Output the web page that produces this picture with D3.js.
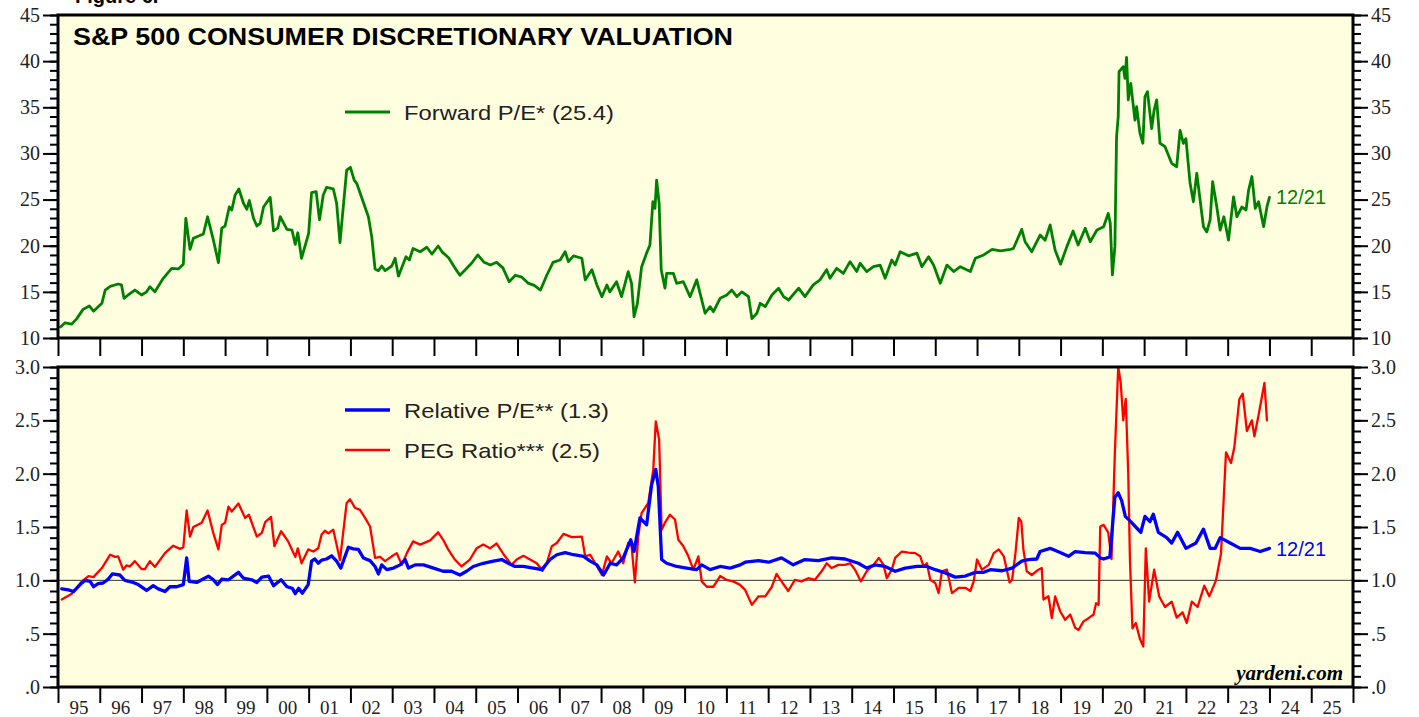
<!DOCTYPE html>
<html>
<head>
<meta charset="utf-8">
<title>S&amp;P 500 Consumer Discretionary Valuation</title>
<style>
  body { margin: 0; background: #fff; }
  .tick text { font-family: "Liberation Serif", "Times New Roman", serif; fill: #222; }
  .axis path.domain { display: none; }
  .axis line { stroke: #000; stroke-width: 2; }
  .line { fill: none; stroke-linejoin: round; stroke-linecap: round; }
</style>
</head>
<body>
<svg width="1419" height="717"></svg>
<script src="https://cdn.jsdelivr.net/npm/d3@7"></script>
<script>
// year labels along the bottom
var yearLabels = ["95","96","97","98","99","00","01","02","03","04","05","06","07","08","09","10",
  "11","12","13","14","15","16","17","18","19","20","21","22","23","24","25"];

// forward P/E, [year, value]
var forwardPE = [
  [1995.06,11.2],[1995.17,11.65],[1995.33,11.5],[1995.45,12.1],[1995.6,13.1],[1995.75,13.47],[1995.85,12.9],
  [1996.05,13.76],[1996.13,15.2],[1996.25,15.6],[1996.44,15.85],[1996.52,15.75],[1996.58,14.3],[1996.68,14.66],
  [1996.84,15.2],[1997.0,14.66],[1997.12,15.0],[1997.2,15.56],[1997.32,15.0],[1997.52,16.47],[1997.72,17.55],
  [1997.88,17.48],[1998.0,18.0],[1998.06,22.97],[1998.16,19.6],[1998.24,20.8],[1998.48,21.27],[1998.58,23.14],
  [1998.72,20.6],[1998.84,18.16],[1998.92,21.9],[1999.0,22.14],[1999.1,24.2],[1999.16,23.87],[1999.24,25.5],
  [1999.33,26.15],[1999.44,24.6],[1999.52,23.95],[1999.58,24.9],[1999.68,22.97],[1999.76,22.14],[1999.84,22.43],
  [1999.92,24.2],[2000.08,25.24],[2000.16,21.6],[2000.26,21.9],[2000.32,23.14],[2000.48,21.77],[2000.6,21.7],
  [2000.68,20.15],[2000.74,21.4],[2000.83,18.64],[2001.0,21.34],[2001.07,25.74],[2001.18,25.85],[2001.26,22.8],
  [2001.35,25.5],[2001.43,26.33],[2001.59,26.15],[2001.67,24.6],[2001.75,20.33],[2001.91,28.2],[2002.0,28.5],
  [2002.09,27.1],[2002.15,26.76],[2002.43,23.14],[2002.51,21.0],[2002.59,17.48],[2002.67,17.3],[2002.75,17.8],
  [2002.83,17.3],[2002.99,17.8],[2003.07,18.64],[2003.15,16.7],[2003.33,18.8],[2003.41,18.45],[2003.5,19.7],
  [2003.67,19.35],[2003.83,19.83],[2003.95,19.1],[2004.1,19.97],[2004.2,19.3],[2004.35,18.7],[2004.5,17.6],
  [2004.62,16.8],[2004.75,17.4],[2004.9,18.1],[2005.05,19.0],[2005.2,18.2],[2005.35,17.9],[2005.5,18.2],
  [2005.65,17.6],[2005.8,16.1],[2005.95,16.8],[2006.1,16.6],[2006.25,15.95],[2006.4,15.7],[2006.55,15.2],
  [2006.7,16.8],[2006.85,18.2],[2007.02,18.45],[2007.14,19.35],[2007.22,18.27],[2007.34,18.9],[2007.54,18.64],
  [2007.62,16.3],[2007.78,17.4],[2007.9,15.75],[2008.02,14.48],[2008.14,15.75],[2008.21,15.0],[2008.37,16.1],
  [2008.49,14.48],[2008.65,17.2],[2008.73,15.93],[2008.79,12.3],[2008.87,13.76],[2008.97,17.7],[2009.09,19.2],
  [2009.17,20.08],[2009.24,24.77],[2009.29,24.05],[2009.33,27.1],[2009.39,24.6],[2009.44,17.4],[2009.53,15.4],
  [2009.57,17.0],[2009.73,17.0],[2009.81,15.93],[2009.97,16.1],[2010.13,14.48],[2010.29,16.3],[2010.49,12.68],
  [2010.61,13.4],[2010.69,12.85],[2010.85,14.3],[2011.01,14.66],[2011.13,15.2],[2011.25,14.48],[2011.37,15.0],
  [2011.53,14.48],[2011.61,12.1],[2011.73,12.68],[2011.81,13.76],[2011.93,13.4],[2012.09,14.66],[2012.25,15.4],
  [2012.37,14.48],[2012.49,14.12],[2012.73,15.4],[2012.88,14.48],[2013.08,15.75],[2013.24,16.3],[2013.4,17.4],
  [2013.48,16.47],[2013.64,17.55],[2013.8,17.0],[2013.96,18.27],[2014.12,17.2],[2014.2,18.1],[2014.36,17.2],
  [2014.52,17.73],[2014.68,17.9],[2014.8,16.47],[2014.96,18.45],[2015.04,17.9],[2015.16,19.35],[2015.36,18.9],
  [2015.56,19.2],[2015.68,17.73],[2015.84,18.8],[2015.96,17.9],[2016.12,15.93],[2016.28,17.9],[2016.44,17.2],
  [2016.6,17.73],[2016.84,17.2],[2016.96,18.64],[2017.16,19.0],[2017.36,19.6],[2017.56,19.45],[2017.8,19.6],
  [2017.87,19.7],[2018.07,21.77],[2018.15,20.43],[2018.31,19.35],[2018.51,21.16],[2018.63,20.6],[2018.75,22.25],
  [2018.87,19.5],[2019.0,18.0],[2019.15,19.9],[2019.3,21.6],[2019.42,20.08],[2019.59,21.9],[2019.71,20.43],
  [2019.87,21.7],[2020.03,22.06],[2020.14,23.5],[2020.19,22.43],[2020.24,16.83],[2020.3,19.9],[2020.34,31.8],
  [2020.38,34.0],[2020.4,38.86],[2020.5,39.4],[2020.54,38.14],[2020.58,40.4],[2020.62,35.8],[2020.68,37.6],
  [2020.78,33.6],[2020.82,35.06],[2020.9,32.2],[2020.97,31.1],[2021.02,36.15],[2021.08,36.7],[2021.18,32.7],
  [2021.24,34.7],[2021.3,35.8],[2021.38,31.1],[2021.5,30.73],[2021.66,28.93],[2021.78,28.56],[2021.86,32.5],
  [2021.94,31.1],[2022.0,31.6],[2022.1,26.76],[2022.18,24.77],[2022.26,27.85],[2022.34,24.95],[2022.42,22.06],
  [2022.5,21.5],[2022.58,22.8],[2022.64,26.94],[2022.74,24.2],[2022.82,21.7],[2022.91,23.14],[2023.02,20.6],
  [2023.14,25.3],[2023.22,23.14],[2023.34,24.2],[2023.44,23.87],[2023.5,26.0],[2023.58,27.5],[2023.66,24.05],
  [2023.74,24.77],[2023.86,22.06],[2023.94,24.2],[2024.0,25.24]
];

// relative P/E, [year, value]
var relativePE = [
  [1995.09,0.92],[1995.25,0.91],[1995.37,0.895],[1995.53,0.96],[1995.65,1.0],[1995.77,0.99],[1995.85,0.94],
  [1995.96,0.97],[1996.08,0.975],[1996.2,1.01],[1996.3,1.06],[1996.48,1.05],[1996.6,1.0],[1996.8,0.98],
  [1996.92,0.96],[1997.12,0.905],[1997.28,0.95],[1997.4,0.92],[1997.56,0.895],[1997.68,0.94],[1997.84,0.94],
  [1998.0,0.96],[1998.08,1.21],[1998.14,0.99],[1998.32,0.98],[1998.44,1.005],[1998.6,1.04],[1998.72,1.005],
  [1998.82,0.96],[1998.92,1.01],[1999.08,1.005],[1999.32,1.075],[1999.44,1.02],[1999.64,1.005],[1999.76,0.98],
  [1999.88,1.03],[2000.04,1.04],[2000.16,0.95],[2000.34,1.005],[2000.48,0.94],[2000.61,0.925],[2000.68,0.875],
  [2000.76,0.925],[2000.85,0.88],[2000.99,0.96],[2001.07,1.18],[2001.15,1.2],[2001.23,1.16],[2001.31,1.19],
  [2001.43,1.2],[2001.55,1.23],[2001.67,1.18],[2001.77,1.115],[2001.95,1.31],[2002.07,1.295],[2002.19,1.29],
  [2002.31,1.21],[2002.47,1.185],[2002.59,1.13],[2002.67,1.06],[2002.75,1.145],[2002.87,1.1],[2003.03,1.115],
  [2003.19,1.145],[2003.31,1.195],[2003.39,1.115],[2003.55,1.145],[2003.75,1.145],[2003.99,1.115],[2004.22,1.085],
  [2004.42,1.085],[2004.62,1.05],[2004.78,1.085],[2004.94,1.13],[2005.18,1.16],[2005.42,1.18],[2005.62,1.195],
  [2005.78,1.16],[2005.94,1.13],[2006.14,1.13],[2006.38,1.115],[2006.58,1.1],[2006.78,1.195],[2006.94,1.24],
  [2007.14,1.26],[2007.34,1.24],[2007.58,1.225],[2007.74,1.18],[2007.9,1.145],[2008.06,1.05],[2008.22,1.16],
  [2008.37,1.145],[2008.53,1.21],[2008.71,1.38],[2008.79,1.27],[2008.93,1.585],[2009.09,1.52],[2009.21,1.895],
  [2009.31,2.04],[2009.37,1.88],[2009.45,1.195],[2009.57,1.16],[2009.81,1.13],[2010.05,1.115],[2010.29,1.1],
  [2010.41,1.145],[2010.61,1.1],[2010.85,1.13],[2011.09,1.115],[2011.33,1.145],[2011.45,1.17],[2011.77,1.185],
  [2012.01,1.17],[2012.32,1.21],[2012.6,1.145],[2012.88,1.195],[2013.2,1.185],[2013.52,1.21],[2013.84,1.2],
  [2014.16,1.16],[2014.36,1.115],[2014.56,1.145],[2014.8,1.13],[2015.04,1.085],[2015.28,1.115],[2015.56,1.13],
  [2015.8,1.13],[2016.0,1.1],[2016.24,1.07],[2016.48,1.03],[2016.72,1.04],[2016.96,1.075],[2017.16,1.075],
  [2017.32,1.1],[2017.6,1.09],[2017.84,1.115],[2018.07,1.18],[2018.23,1.195],[2018.43,1.2],[2018.51,1.27],
  [2018.75,1.3],[2018.99,1.26],[2019.19,1.225],[2019.35,1.27],[2019.59,1.26],[2019.83,1.255],[2019.95,1.21],
  [2020.03,1.2],[2020.18,1.22],[2020.24,1.5],[2020.3,1.78],[2020.38,1.82],[2020.46,1.75],[2020.55,1.6],
  [2020.68,1.55],[2020.8,1.5],[2020.92,1.45],[2021.02,1.6],[2021.14,1.55],[2021.22,1.62],[2021.34,1.45],
  [2021.54,1.4],[2021.66,1.35],[2021.8,1.45],[2022.0,1.3],[2022.24,1.35],[2022.42,1.48],[2022.58,1.3],
  [2022.7,1.3],[2022.82,1.4],[2023.06,1.35],[2023.3,1.3],[2023.54,1.3],[2023.78,1.27],[2024.0,1.3]
];

// PEG ratio, [year, value]
var pegRatio = [
  [1995.09,0.82],[1995.33,0.875],[1995.57,0.99],[1995.73,1.04],[1995.85,1.03],[1996.05,1.115],[1996.25,1.24],
  [1996.37,1.22],[1996.44,1.225],[1996.56,1.1],[1996.64,1.14],[1996.72,1.13],[1996.84,1.18],[1997.0,1.105],
  [1997.08,1.105],[1997.2,1.18],[1997.32,1.125],[1997.56,1.255],[1997.76,1.325],[1997.92,1.295],[1998.0,1.31],
  [1998.08,1.655],[1998.16,1.41],[1998.24,1.5],[1998.44,1.54],[1998.58,1.655],[1998.72,1.44],[1998.84,1.29],
  [1998.92,1.52],[1999.0,1.54],[1999.08,1.69],[1999.16,1.645],[1999.32,1.72],[1999.48,1.585],[1999.57,1.615],
  [1999.76,1.41],[1999.88,1.445],[1999.96,1.545],[2000.1,1.595],[2000.18,1.32],[2000.34,1.46],[2000.51,1.365],
  [2000.68,1.22],[2000.74,1.3],[2000.83,1.16],[2000.99,1.29],[2001.11,1.27],[2001.23,1.3],[2001.31,1.43],
  [2001.39,1.465],[2001.47,1.44],[2001.59,1.475],[2001.75,1.19],[2001.91,1.725],[2001.99,1.76],[2002.11,1.68],
  [2002.23,1.66],[2002.35,1.585],[2002.47,1.505],[2002.59,1.21],[2002.71,1.22],[2002.83,1.18],[2002.99,1.225],
  [2003.11,1.255],[2003.23,1.145],[2003.35,1.255],[2003.5,1.365],[2003.67,1.335],[2003.91,1.375],[2004.1,1.45],
  [2004.22,1.38],[2004.34,1.29],[2004.5,1.195],[2004.66,1.13],[2004.86,1.195],[2005.02,1.3],[2005.18,1.335],
  [2005.34,1.3],[2005.5,1.345],[2005.7,1.225],[2005.86,1.145],[2005.98,1.195],[2006.14,1.23],[2006.3,1.195],
  [2006.46,1.16],[2006.6,1.09],[2006.7,1.16],[2006.82,1.32],[2006.94,1.35],[2007.1,1.435],[2007.3,1.405],
  [2007.54,1.41],[2007.62,1.225],[2007.74,1.24],[2007.86,1.16],[2008.02,1.05],[2008.14,1.225],[2008.25,1.16],
  [2008.41,1.27],[2008.53,1.16],[2008.65,1.35],[2008.73,1.32],[2008.81,0.98],[2008.89,1.41],[2008.97,1.63],
  [2009.13,1.725],[2009.25,2.04],[2009.31,2.49],[2009.39,2.32],[2009.45,1.475],[2009.53,1.54],[2009.65,1.615],
  [2009.77,1.57],[2009.85,1.38],[2009.97,1.32],[2010.09,1.225],[2010.21,1.1],[2010.33,1.225],[2010.41,0.99],
  [2010.53,0.94],[2010.69,0.94],[2010.85,1.04],[2011.0,1.005],[2011.16,0.99],[2011.32,0.96],[2011.45,0.91],
  [2011.61,0.77],[2011.77,0.85],[2011.93,0.85],[2012.09,0.94],[2012.2,1.06],[2012.32,0.99],[2012.48,0.9],
  [2012.64,1.005],[2012.8,0.99],[2012.96,1.02],[2013.12,1.005],[2013.28,1.085],[2013.4,1.16],[2013.52,1.115],
  [2013.68,1.145],[2013.84,1.145],[2013.96,1.16],[2014.08,1.1],[2014.22,0.99],[2014.36,1.085],[2014.52,1.145],
  [2014.65,1.21],[2014.76,1.145],[2014.84,1.02],[2014.96,1.1],[2015.04,1.21],[2015.2,1.27],[2015.36,1.26],
  [2015.52,1.255],[2015.64,1.225],[2015.72,1.13],[2015.8,1.16],[2015.88,1.005],[2016.0,0.975],[2016.08,0.88],
  [2016.16,1.085],[2016.28,1.1],[2016.4,0.88],[2016.56,0.93],[2016.72,0.93],[2016.84,0.9],[2016.92,0.99],
  [2017.0,1.195],[2017.12,1.1],[2017.28,1.145],[2017.4,1.255],[2017.52,1.29],[2017.64,1.225],[2017.72,1.085],
  [2017.78,0.98],[2017.84,1.005],[2017.92,1.255],[2018.0,1.585],[2018.06,1.55],[2018.11,1.29],[2018.19,1.085],
  [2018.31,1.05],[2018.47,1.1],[2018.55,1.115],[2018.59,0.82],[2018.71,0.85],[2018.79,0.645],[2018.87,0.85],
  [2018.99,0.71],[2019.11,0.63],[2019.23,0.68],[2019.35,0.555],[2019.43,0.535],[2019.55,0.615],[2019.67,0.645],
  [2019.79,0.68],[2019.85,0.785],[2019.91,0.77],[2019.95,1.505],[2020.03,1.52],[2020.14,1.45],[2020.22,1.2],
  [2020.3,2.2],[2020.38,3.0],[2020.44,2.85],[2020.5,2.5],[2020.56,2.7],[2020.62,2.0],[2020.66,1.2],
  [2020.72,0.55],[2020.8,0.6],[2020.9,0.45],[2020.98,0.38],[2021.04,1.3],[2021.12,0.8],[2021.24,1.1],
  [2021.36,0.85],[2021.5,0.75],[2021.66,0.8],[2021.78,0.65],[2021.92,0.7],[2022.02,0.6],[2022.14,0.8],
  [2022.28,0.75],[2022.44,0.95],[2022.56,0.85],[2022.72,1.0],[2022.84,1.25],[2022.96,2.2],[2023.08,2.1],
  [2023.16,2.25],[2023.28,2.7],[2023.36,2.75],[2023.46,2.4],[2023.58,2.5],[2023.64,2.35],[2023.74,2.55],
  [2023.88,2.85],[2023.94,2.5]
];

var svg = d3.select("svg");
var left = 58, right = 1353;
var top1 = 15, bot1 = 338, top2 = 367, bot2 = 687;
var panelFill = "#ffffe0";
var sans = "Liberation Sans, Arial, sans-serif";
var serif = "Liberation Serif, Times New Roman, serif";

var x = d3.scaleLinear().domain([1995, 2026]).range([left, right]);
var y1 = d3.scaleLinear().domain([10, 45]).range([bot1, top1]);
var y2 = d3.scaleLinear().domain([0, 3]).range([bot2, top2]);

// figure caption, cut off at the top of the page as in the original
svg.append("text")
  .attr("x", 75).attr("y", 3)
  .style("font-family", sans)
  .style("font-weight", "bold").style("font-size", "20px")
  .text("Figure 6.");

// panel backgrounds
svg.append("rect").attr("x", left).attr("y", top1)
  .attr("width", right - left).attr("height", bot1 - top1).attr("fill", panelFill);
svg.append("rect").attr("x", left).attr("y", top2)
  .attr("width", right - left).attr("height", bot2 - top2).attr("fill", panelFill);

// 1.0 reference line
svg.append("line")
  .attr("x1", left).attr("x2", right)
  .attr("y1", y2(1)).attr("y2", y2(1))
  .attr("stroke", "#333").attr("stroke-width", 1);

function fmt2(d) {
  var s = d3.format(".1f")(d);
  return d < 1 ? s.replace(/^0/, "") : s;
}

function yAxes(scale, major, minor, fmt) {
  // left
  svg.append("g").attr("class", "axis").attr("transform", "translate(" + left + ",0)")
    .call(d3.axisLeft(scale).tickValues(minor).tickSize(8).tickFormat(""));
  svg.append("g").attr("class", "axis").attr("transform", "translate(" + left + ",0)")
    .call(d3.axisLeft(scale).tickValues(major).tickSize(15).tickPadding(3).tickFormat(fmt))
    .selectAll("text").style("font-size", "20px");
  // right
  svg.append("g").attr("class", "axis").attr("transform", "translate(" + right + ",0)")
    .call(d3.axisRight(scale).tickValues(minor).tickSize(8).tickFormat(""));
  svg.append("g").attr("class", "axis").attr("transform", "translate(" + right + ",0)")
    .call(d3.axisRight(scale).tickValues(major).tickSize(15).tickPadding(3).tickFormat(fmt))
    .selectAll("text").style("font-size", "20px");
}

yAxes(y1, d3.range(10, 46, 5), d3.range(10, 46, 1), d3.format("d"));
yAxes(y2, d3.range(0, 3.01, 0.5), d3.range(0, 3.01, 0.1), fmt2);

// year ticks under each panel
var yearTicks = d3.range(1995, 2027);
svg.append("g").attr("class", "axis").attr("transform", "translate(0," + bot1 + ")")
  .call(d3.axisBottom(x).tickValues(yearTicks).tickSize(18).tickFormat(""));
svg.append("g").attr("class", "axis").attr("transform", "translate(0," + bot2 + ")")
  .call(d3.axisBottom(x).tickValues(yearTicks).tickSize(16).tickFormat(""));

svg.append("g").selectAll("text")
  .data(yearLabels)
  .enter().append("text")
  .attr("x", function(d, i) { return x(1995.5 + i); })
  .attr("y", 714)
  .attr("text-anchor", "middle")
  .style("font-family", serif)
  .style("font-size", "19px").style("fill", "#222")
  .text(function(d) { return d; });

// lines
var line1 = d3.line().x(function(d) { return x(d[0]); }).y(function(d) { return y1(d[1]); });
var line2 = d3.line().x(function(d) { return x(d[0]); }).y(function(d) { return y2(d[1]); });

svg.append("path").datum(forwardPE).attr("class", "line")
  .attr("stroke", "#008000").attr("stroke-width", 2.8).attr("d", line1);
svg.append("path").datum(pegRatio).attr("class", "line")
  .attr("stroke", "#ff0000").attr("stroke-width", 2.3).attr("d", line2);
svg.append("path").datum(relativePE).attr("class", "line")
  .attr("stroke", "#0000ff").attr("stroke-width", 3.3).attr("d", line2);

// panel borders
[[top1, bot1], [top2, bot2]].forEach(function(p) {
  svg.append("rect").attr("x", left).attr("y", p[0])
    .attr("width", right - left).attr("height", p[1] - p[0])
    .attr("fill", "none").attr("stroke", "#000").attr("stroke-width", 3);
});

// title
svg.append("text").attr("x", 73).attr("y", 45)
  .attr("textLength", 660).attr("lengthAdjust", "spacingAndGlyphs")
  .style("font-family", sans).style("font-weight", "bold").style("font-size", "24px")
  .text("S&P 500 CONSUMER DISCRETIONARY VALUATION");

// legends
var legends = [
  {label: "Forward P/E* (25.4)", color: "#008000", y: 112, w: 2.8, len: 210},
  {label: "Relative P/E** (1.3)", color: "#0000ff", y: 410, w: 3.3, len: 205},
  {label: "PEG Ratio*** (2.5)", color: "#ff0000", y: 450, w: 2.3, len: 196}
];
legends.forEach(function(l) {
  svg.append("line").attr("x1", 345).attr("x2", 390).attr("y1", l.y).attr("y2", l.y)
    .attr("stroke", l.color).attr("stroke-width", l.w);
  svg.append("text").attr("x", 404).attr("y", l.y + 8)
    .attr("textLength", l.len).attr("lengthAdjust", "spacingAndGlyphs")
    .style("font-family", sans).style("font-size", "21px").style("fill", "#222")
    .text(l.label);
});

// end labels
svg.append("text").attr("x", 1276).attr("y", 204)
  .style("font-family", sans).style("font-size", "20px").style("fill", "#008000")
  .text("12/21");
svg.append("text").attr("x", 1276).attr("y", 556)
  .style("font-family", sans).style("font-size", "20px").style("fill", "#0000ff")
  .text("12/21");

// source
svg.append("text").attr("x", 1343).attr("y", 680).attr("text-anchor", "end")
  .style("font-family", serif)
  .style("font-weight", "bold").style("font-style", "italic").style("font-size", "21px")
  .text("yardeni.com");
</script>
</body>
</html>
